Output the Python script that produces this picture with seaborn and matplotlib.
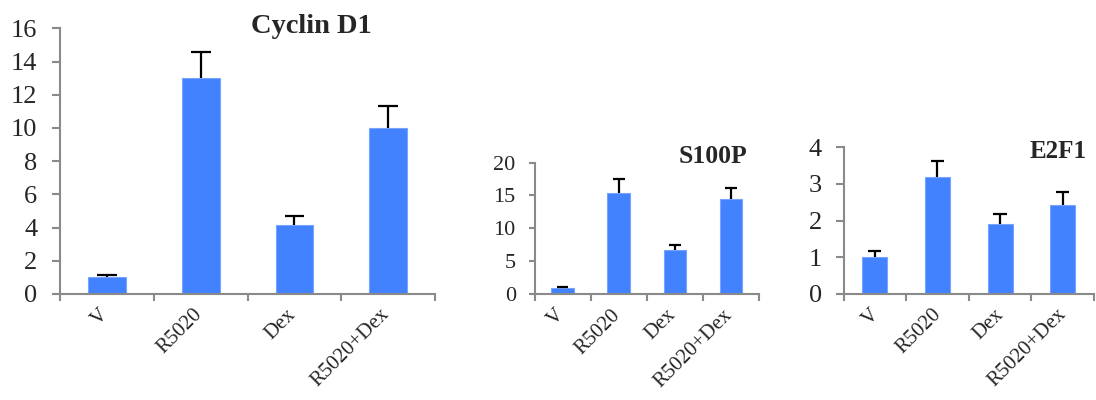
import matplotlib
matplotlib.use("Agg")
import matplotlib.pyplot as plt
import matplotlib.transforms as mtransforms
import seaborn as sns
import numpy as np

# ---- data ----
categories = ["V", "R5020", "Dex", "R5020+Dex"]
cyclin_mean = [1.0, 13.0, 4.15, 10.0]
cyclin_err = [0.16, 1.6, 0.55, 1.3]
s100p_mean = [0.9, 15.4, 6.7, 14.4]
s100p_err = [0.25, 2.1, 0.8, 1.7]
e2f1_mean = [1.0, 3.19, 1.92, 2.44]
e2f1_err = [0.16, 0.44, 0.25, 0.33]
titles = ["Cyclin D1", "S100P", "E2F1"]
y_ticks = [[0, 2, 4, 6, 8, 10, 12, 14, 16], [0, 5, 10, 15, 20], [0, 1, 2, 3, 4]]

sns.set_style("ticks")
plt.rcParams['font.family'] = ['Liberation Serif', 'DejaVu Serif']

BAR = "#4282FF"
SPINE = "#8a8a8a"

fig = plt.figure(figsize=(10.96, 4.0), dpi=100)
ax_rects = [
    [60.3 / 1096, 1 - 294 / 400, (435 - 60.3) / 1096, (294 - 28.3) / 400],
    [534.5 / 1096, 1 - 294.3 / 400, (759 - 534.5) / 1096, (294.3 - 162.5) / 400],
    [843.5 / 1096, 1 - 294 / 400, (1094 - 843.5) / 1096, (294 - 147.3) / 400],
]
ytick_sizes = [19, 16, 19]
ytick_len = [5.5, 4, 5.5]
ytick_pad = [11, 9.5, 10]
xlabel_shift_px = [5, 5, 8]
title_pos = [(311.7 / 1096, 1 - 33.3 / 400, 20.5),
             (712.5 / 1096, 1 - 162.7 / 400, 18.5),
             (1058.3 / 1096, 1 - 158.3 / 400, 18)]

series = [(cyclin_mean, cyclin_err), (s100p_mean, s100p_err), (e2f1_mean, e2f1_err)]

for i, (rect, (means, errs)) in enumerate(zip(ax_rects, series)):
    ax = fig.add_axes(rect)
    sns.barplot(x=categories, y=means, ax=ax, color=BAR, saturation=1,
                width=0.4, edgecolor="#78a4ff", linewidth=0.8)
    xs = np.arange(len(categories))
    tops = np.array(means) + np.array(errs)
    ax.vlines(xs, means, tops, color="black", lw=1.6, zorder=3)
    ax.hlines(tops, xs - 0.105, xs + 0.105, color="black", lw=1.6, zorder=3)

    ax.set_xlim(-0.5, 3.5)
    yt = y_ticks[i]
    ax.set_ylim(0, yt[-1])
    ax.set_yticks(yt)
    ax.set_yticklabels([str(v) for v in yt])

    ax.set_xticks([-0.5, 0.5, 1.5, 2.5, 3.5])
    ax.set_xticklabels([""] * 5)
    ax.set_xticks(xs, labels=categories, minor=True)
    ax.tick_params(axis='x', which='major', length=5, width=1.5, color=SPINE, direction='out')
    ax.tick_params(axis='x', which='minor', length=0, pad=8, labelsize=15)
    shift = mtransforms.ScaledTranslation(xlabel_shift_px[i] / 100, 0, fig.dpi_scale_trans)
    for lab in ax.get_xticklabels(minor=True):
        lab.set_rotation(45)
        lab.set_ha('right')
        lab.set_va('top')
        lab.set_transform(lab.get_transform() + shift)
    ax.tick_params(axis='y', length=ytick_len[i], width=1.5, color=SPINE, direction='out',
                   labelsize=ytick_sizes[i], pad=ytick_pad[i])

    sns.despine(ax=ax)
    for sp in ['left', 'bottom']:
        ax.spines[sp].set_color(SPINE)
        ax.spines[sp].set_linewidth(1.5)
    ax.set_xlabel("")
    ax.set_ylabel("")

    tx, ty, ts = title_pos[i]
    fig.text(tx, ty, titles[i], ha='center', va='baseline', fontsize=ts, fontweight='bold')

fig.savefig("out.png", dpi=100)
